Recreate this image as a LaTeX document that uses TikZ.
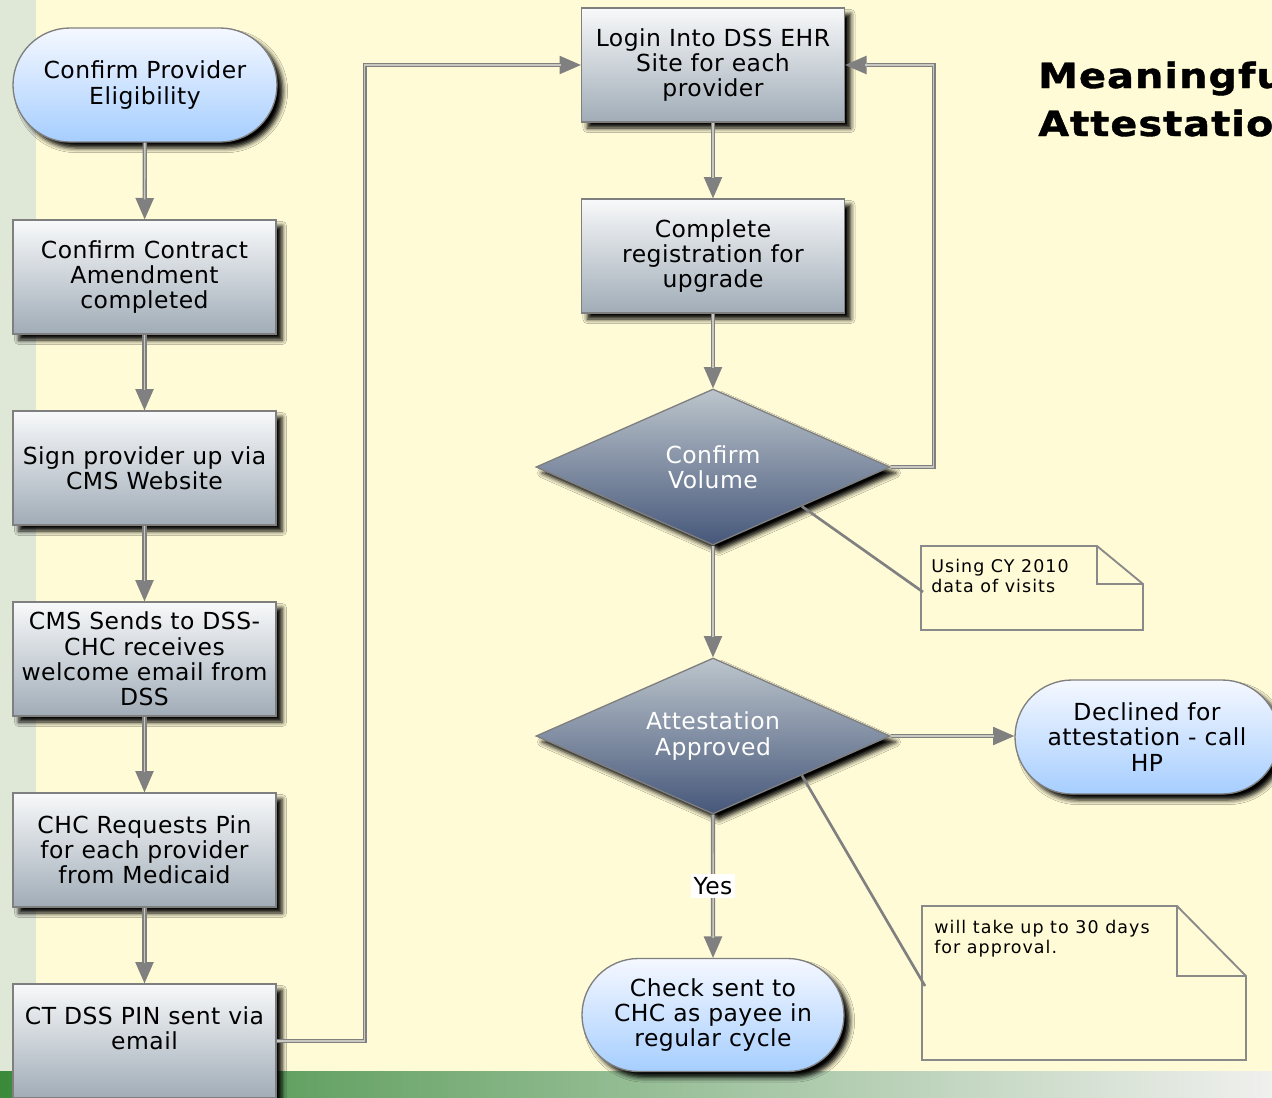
\documentclass[tikz,border=0pt]{standalone}
\usepackage{fontspec}
\setmainfont{DejaVu Sans}
\newfontfamily\boxfont[LetterSpace=2]{DejaVu Sans}
\newfontfamily\notefont[LetterSpace=6]{DejaVu Sans}
\newfontfamily\titlefont[LetterSpace=3,FakeStretch=1.15,FakeBold=1.2]{DejaVu Sans}
\usetikzlibrary{shapes.geometric,shapes.misc,arrows.meta,calc,shadows.blur}

\definecolor{cream}{HTML}{FFFBD6}
\definecolor{strip}{HTML}{DFE7D7}
\definecolor{barL}{HTML}{3A8A3A}
\definecolor{barM}{HTML}{9DB898}
\definecolor{barR}{HTML}{F0F0EE}
\definecolor{edge}{HTML}{7F7F7F}
\definecolor{procTop}{HTML}{F8F9FA}
\definecolor{procBot}{HTML}{A0ACB7}
\definecolor{termTop}{HTML}{F5F8FF}
\definecolor{termBot}{HTML}{A6CEFF}
\definecolor{decTop}{HTML}{BCC5CC}
\definecolor{decBot}{HTML}{46577A}
\definecolor{wirec}{HTML}{808080}
\definecolor{wirein}{HTML}{C8C8C0}
\definecolor{notec}{HTML}{8A8A8A}

\begin{document}
\begin{tikzpicture}[x=0.75pt,y=-0.75pt,
  boxtext/.style={font=\boxfont\fontsize{17.6pt}{18.9pt}\selectfont, align=center},
  shade/.style={blur shadow={shadow xshift=4.5pt, shadow yshift=-4.5pt,
      shadow blur radius=3.5pt, shadow opacity=100}},
  proc/.style={rectangle, draw=edge, line width=1pt, boxtext,
      top color=procTop, bottom color=procBot, shade,
      minimum width=197.25pt, minimum height=85.5pt, inner sep=0pt},
  term/.style={rounded rectangle, draw=edge, line width=1pt, boxtext,
      top color=termTop, bottom color=termBot, shade,
      minimum width=198pt, minimum height=85.5pt, inner sep=0pt},
  decision/.style={diamond, aspect=2.27, draw=edge, line width=1pt, boxtext,
      text=white, top color=decTop, bottom color=decBot, shade,
      minimum width=265.5pt, minimum height=117pt, inner sep=0pt},
  wire/.style={draw=wirec, line width=3.2pt,
      -{Triangle[length=16pt,width=14pt,line width=0pt]},
      postaction={draw=wirein, line width=1.1pt, arrows=-, shorten >=15pt}},
  noteedge/.style={draw=notec, line width=1.4pt, line join=miter},
  noteline/.style={draw=wirec, line width=2pt},
  notetext/.style={font=\notefont\fontsize{13.1pt}{14.6pt}\selectfont,
      align=left, anchor=north west, inner sep=0pt},
  yeslabel/.style={boxtext, fill=white, inner xsep=2pt, inner ysep=2.5pt},
  titletext/.style={font=\titlefont\bfseries\fontsize{26pt}{36pt}\selectfont,
      anchor=base west, inner sep=0pt}
]
\useasboundingbox (0,0) rectangle (1272,1097);
\clip (0,0) rectangle (1272,1097);

% page background, side strip and footer band
\fill[cream] (0,0) rectangle (1272,1097);
\fill[strip] (0,0) rectangle (36,1071);
\fill[left color=barL, middle color=barM, right color=barR] (0,1071) rectangle (1272,1097);

% heading
\node[titletext] (title1) at (1038,88) {Meaningful};
\node[titletext] (title2) at (1038,136) {Attestation};

% left column
\node[term] (start) at (145,85) {Confirm Provider\\Eligibility};
\node[proc] (contract) at (144.5,277) {Confirm Contract\\Amendment\\completed};
\node[proc] (signup) at (144.5,468) {Sign provider up via\\CMS Website};
\node[proc] (welcome) at (144.5,659) {CMS Sends to DSS-\\CHC receives\\welcome email from\\DSS};
\node[proc] (pinreq) at (144.5,850) {CHC Requests Pin\\for each provider\\from Medicaid};
\node[proc, label={[boxtext, yshift=9.75pt]center:{CT DSS PIN sent via\\email}}] (pinsent) at (144.5,1041) {};

% right column
\node[proc] (login) at (713,65) {Login Into DSS EHR\\Site for each\\provider};
\node[proc] (register) at (713,256) {Complete\\registration for\\upgrade};
\node[decision] (volume) at (713,467) {Confirm\\Volume};
\node[decision] (approved) at (713,736) {Attestation\\Approved};
\node[term] (declined) at (1147,737) {Declined for\\attestation - call\\HP};
\node[term, minimum width=196.5pt, minimum height=84.75pt] (check) at (713,1015) {Check sent to\\CHC as payee in\\regular cycle};

% flow
\draw[wire] (start) -- (contract);
\draw[wire] (contract) -- (signup);
\draw[wire] (signup) -- (welcome);
\draw[wire] (welcome) -- (pinreq);
\draw[wire] (pinreq) -- (pinsent);
\draw[wire] (pinsent.east) -- ++(88,0) |- (login.west);
\draw[wire] (login) -- (register);
\draw[wire] (register) -- (volume);
\draw[wire] (volume.east) -- ++(43,0) |- (login.east);
\draw[wire] (volume) -- (approved);
\draw[wire] (approved.east) -- (approved.east -| declined.west);
\draw[wire] (approved) -- node[yeslabel] (yes) {Yes} (check);

% annotations
\draw[noteedge] (921,546) -- (1097,546) -- (1143,584) -- (1143,630) -- (921,630) -- cycle;
\draw[noteedge] (1097,546) -- (1097,584) -- (1143,584);
\node[notetext] (note1) at (931,559) {Using CY 2010\\data of visits};
\coordinate (note1pin) at (923,592);
\draw[noteline] ($(volume.east)!0.5!(volume.south)$) -- (note1pin);

\draw[noteedge] (922,906) -- (1177,906) -- (1246,976) -- (1246,1060) -- (922,1060) -- cycle;
\draw[noteedge] (1177,906) -- (1177,976) -- (1246,976);
\node[notetext] (note2) at (934,920) {will take up to 30 days\\for approval.};
\coordinate (note2pin) at (925,986);
\draw[noteline] ($(approved.east)!0.5!(approved.south)$) -- (note2pin);
\end{tikzpicture}
\end{document}
